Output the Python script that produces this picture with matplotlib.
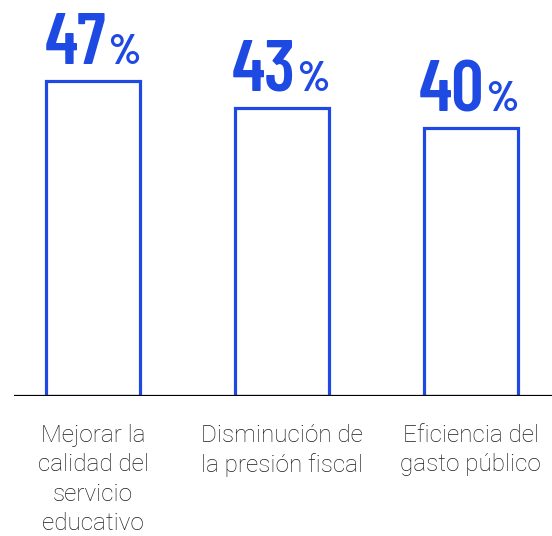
import matplotlib.pyplot as plt

categorias = ["Mejorar la\ncalidad del\nservicio\neducativo",
              "Disminución de\nla presión fiscal",
              "Eficiencia del\ngasto público"]
valores = [47, 43, 40]

azul = "#1f49e3"

fig = plt.figure(figsize=(5.52, 5.36), dpi=100)
ax = fig.add_axes([14 / 552, 1 - 396 / 536, 1 - 14 / 552, 396 / 536])

x = range(len(valores))
ax.bar(x, valores, width=0.497, facecolor="white", edgecolor=azul, linewidth=2.3, zorder=2)

ax.set_xlim(-0.418, 2.43)
ax.set_ylim(0, 59.1)
ax.axhline(0, color="black", linewidth=1.6, zorder=3)
for s in ax.spines.values():
    s.set_visible(False)
ax.set_xticks([])
ax.set_yticks([])

# porcentaje: numero grande + "%" pequeño, centrado sobre la barra
for i, v in enumerate(valores):
    ax.annotate(str(v), (i, v), xytext=(9.8, 12.2), textcoords="offset points",
                ha="right", va="baseline", color=azul,
                fontsize=52, fontweight=600, family="Barlow Condensed")
    ax.annotate("%", (i, v), xytext=(11.2, 12.2), textcoords="offset points",
                ha="left", va="baseline", color=azul,
                fontsize=30, fontweight="bold", family="Barlow Condensed")
    ax.annotate(categorias[i], (i, 0), xytext=(0, -20), textcoords="offset points",
                ha="center", va="top", color="#1c1c1c", fontsize=17.5,
                family="Roboto", fontweight="light", linespacing=1.36)

fig.savefig("out.png", dpi=100)
